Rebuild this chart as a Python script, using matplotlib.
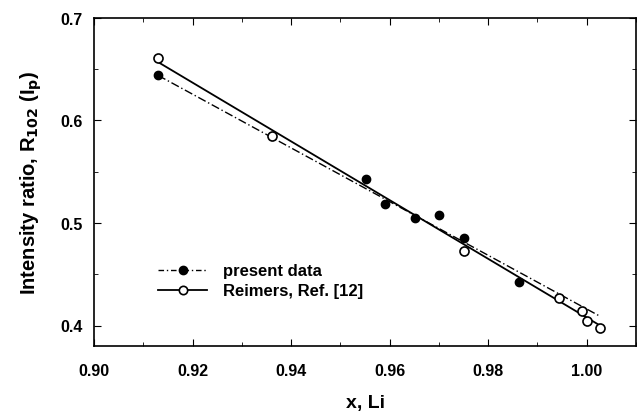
import matplotlib
matplotlib.use("Agg")
import matplotlib.pyplot as plt
from matplotlib.ticker import MultipleLocator

plt.rcParams['font.family'] = ['Liberation Sans', 'DejaVu Sans']
plt.rcParams['font.weight'] = 'bold'
plt.rcParams['mathtext.default'] = 'bf'

# present data (filled circles)
present_x = [0.913, 0.9552, 0.959, 0.9652, 0.970, 0.975, 0.9863]
present_y = [0.644, 0.543, 0.5185, 0.505, 0.508, 0.485, 0.442]
# Reimers, Ref. [12] (open circles)
reimers_x = [0.913, 0.9362, 0.975, 0.9943, 0.999, 1.0001, 1.0027]
reimers_y = [0.661, 0.585, 0.473, 0.427, 0.414, 0.404, 0.398]
# fitted lines (endpoints)
fit_x = [0.913, 1.0027]
present_fit_y = [0.644, 0.409]
reimers_fit_y = [0.657, 0.400]

fig = plt.figure(figsize=(6.38, 4.14), dpi=100)
ax = fig.add_axes([94/638, 1 - 347/414, (636-94)/638, (347-19)/414])

ax.plot(fit_x, present_fit_y, color='black', lw=1.0, ls=(0, (6, 2, 1, 2)))
ax.plot(fit_x, reimers_fit_y, color='black', lw=1.3, ls='-')
ax.plot(present_x, present_y, 'o', color='black', ms=6)
ax.plot(reimers_x, reimers_y, 'o', mfc='white', mec='black', mew=1.2, ms=6.5)

# legend proxies
ax.plot([], [], color='black', lw=1.0, ls=(0, (4, 2, 1, 2)), marker='o', ms=6,
        label='present data')
ax.plot([], [], color='black', lw=1.3, ls='-', marker='o', mfc='white', mec='black',
        mew=1.2, ms=6, label='Reimers, Ref. [12]')
leg = ax.legend(loc='upper left', bbox_to_anchor=(0.119, 0.252), frameon=False,
                handlelength=2.9, labelspacing=0.3, handletextpad=1.0,
                borderaxespad=0, borderpad=0,
                prop={'weight': 'bold', 'size': 12})

ax.set_xlim(0.90, 1.01)
ax.set_ylim(0.38, 0.70)
ax.xaxis.set_major_locator(MultipleLocator(0.02))
ax.xaxis.set_minor_locator(MultipleLocator(0.01))
ax.yaxis.set_major_locator(MultipleLocator(0.1))
ax.yaxis.set_minor_locator(MultipleLocator(0.05))
ax.tick_params(which='both', direction='in', top=True, right=True, labelsize=11.5)
ax.tick_params(which='major', length=5)
ax.tick_params(which='minor', length=3)
ax.tick_params(axis='x', which='major', pad=12)
ax.tick_params(axis='y', which='major', pad=8)
ax.xaxis.set_major_formatter(plt.FuncFormatter(lambda v, p: f"{v:.2f}"))
ax.yaxis.set_major_formatter(plt.FuncFormatter(lambda v, p: f"{v:.1f}"))
for lab in ax.get_xticklabels() + ax.get_yticklabels():
    lab.set_fontweight('bold')
for s in ax.spines.values():
    s.set_linewidth(1.2)

ax.set_xlabel('x, Li', fontsize=14, fontweight='bold', labelpad=12)
ax.set_ylabel(r'Intensity ratio, R$_{\mathbf{102}}$ (I$_{\mathbf{p}}$)', fontsize=14.5,
              fontweight='bold', labelpad=12)

fig.savefig('out.png', dpi=100)
